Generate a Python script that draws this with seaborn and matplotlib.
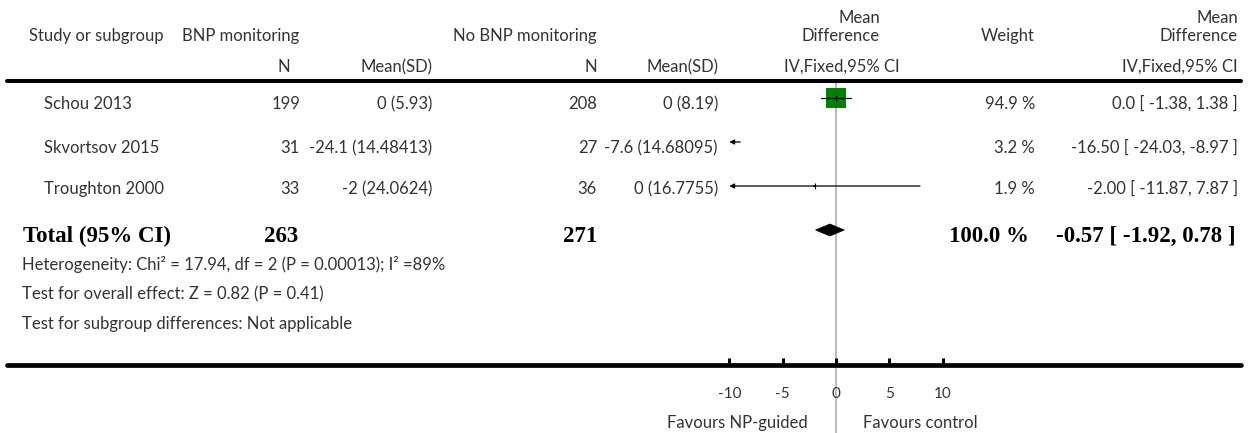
import matplotlib
matplotlib.use("Agg")
import matplotlib.pyplot as plt
import seaborn as sns
import pandas as pd
from matplotlib.lines import Line2D
from matplotlib.patches import Polygon

# ---------------- data ----------------
studies = ["Schou 2013", "Skvortsov 2015", "Troughton 2000"]
n_bnp = [199, 31, 33]
mean_bnp = ["0", "-24.1", "-2"]
sd_bnp = ["5.93", "14.48413", "24.0624"]
n_ctrl = [208, 27, 36]
mean_ctrl = ["0", "-7.6", "0"]
sd_ctrl = ["8.19", "14.68095", "16.7755"]
md = [0.0, -16.50, -2.00]
ci_lo = [-1.38, -24.03, -11.87]
ci_hi = [1.38, -8.97, 7.87]
weights = [94.9, 3.2, 1.9]
md_text = ["0.0 [ -1.38, 1.38 ]", "-16.50 [ -24.03, -8.97 ]", "-2.00 [ -11.87, 7.87 ]"]
total_n_bnp = 263
total_n_ctrl = 271
total_md = -0.57
total_lo = -1.92
total_hi = 0.78
total_weight = "100.0 %"
total_text = "-0.57 [ -1.92, 0.78 ]"
xticks = [-10, -5, 0, 5, 10]
xtick_labels = ["-10", "-5", "0", "5", "10"]
footer = ["Heterogeneity: Chi\u00b2 = 17.94, df = 2 (P = 0.00013); I\u00b2 =89%",
          "Test for overall effect: Z = 0.82 (P = 0.41)",
          "Test for subgroup differences: Not applicable"]

# ---------------- style ----------------
sns.set_theme(style="white")
plt.rcParams["font.family"] = ["Lato", "DejaVu Sans"]
plt.rcParams["axes.unicode_minus"] = False

W, H = 1252, 433
fig = plt.figure(figsize=(W / 100, H / 100), dpi=100)
FS = 12
FSB = 16.5
TC = "#333333"


def fx(x):
    return x / W


def fy(y):
    return 1 - y / H


def txt(x, y, s, ha="left", bold=False, **kw):
    if bold:
        fig.text(fx(x), fy(y), s, ha=ha, va="baseline", fontsize=FSB,
                 family=["Liberation Serif", "DejaVu Serif"], weight="bold",
                 color="black", **kw)
    else:
        fig.text(fx(x), fy(y), s, ha=ha, va="baseline", fontsize=FS,
                 color=TC, **kw)


# ---------------- header ----------------
txt(880, 23, "Mean", ha="right")
txt(1238, 23, "Mean", ha="right")
txt(29, 41, "Study or subgroup")
txt(182, 41, "BNP monitoring")
txt(597, 41, "No BNP monitoring", ha="right")
txt(880, 41, "Difference", ha="right")
txt(1035, 41, "Weight", ha="right")
txt(1238, 41, "Difference", ha="right")
txt(290, 72, "N", ha="right")
txt(432, 72, "Mean(SD)", ha="right")
txt(597, 72, "N", ha="right")
txt(718, 72, "Mean(SD)", ha="right")
txt(900, 72, "IV,Fixed,95% CI", ha="right")
txt(1238, 72, "IV,Fixed,95% CI", ha="right")

fig.add_artist(Line2D([fx(7), fx(1241)], [fy(81), fy(81)], lw=2.9, color="black"))
fig.add_artist(Line2D([fx(7), fx(1241)], [fy(365), fy(365)], lw=3.4, color="black"))

# ---------------- study rows ----------------
row_base = [109, 153, 194]
for i in range(len(studies)):
    b = row_base[i]
    txt(44, b, studies[i])
    txt(300, b, str(n_bnp[i]), ha="right")
    txt(432, b, f"{mean_bnp[i]} ({sd_bnp[i]})", ha="right")
    txt(597, b, str(n_ctrl[i]), ha="right")
    txt(718, b, f"{mean_ctrl[i]} ({sd_ctrl[i]})", ha="right")
    txt(1035, b, f"{weights[i]} %", ha="right")
    txt(1238, b, md_text[i], ha="right")

# total row
txt(23, 242, "Total (95% CI)", bold=True)
txt(298, 242, str(total_n_bnp), ha="right", bold=True)
txt(597, 242, str(total_n_ctrl), ha="right", bold=True)
txt(1029, 242, total_weight, ha="right", bold=True)
txt(1236, 242, total_text, ha="right", bold=True)

for j, s in enumerate(footer):
    txt(22, [270, 299, 329][j], s)

# ---------------- forest axes ----------------
X0, X1, Y0, Y1 = 729.3, 942.7, 81, 365
ax = fig.add_axes([fx(X0), fy(Y1), (X1 - X0) / W, (Y1 - Y0) / H])
ax.patch.set_alpha(0)
xmin, xmax = -10, 10
ROWSP = 44.0
ax.set_xlim(xmin, xmax)
ax.set_ylim((Y1 - 98) / ROWSP, -(98 - Y0) / ROWSP)

df = pd.DataFrame({"md": md, "row": list(range(len(studies))), "weight": weights})
sns.scatterplot(data=df, x="md", y="row", size="weight", sizes=(4.1, 207),
                marker="s", color="#008000", linewidth=0, legend=False,
                ax=ax, zorder=2)

for i in range(len(studies)):
    lo_c = max(ci_lo[i], xmin)
    hi_c = min(ci_hi[i], xmax)
    if ci_lo[i] < xmin:
        ax.annotate("", xy=(lo_c, i), xytext=(hi_c, i),
                    arrowprops=dict(arrowstyle="-|>", color="black", lw=0.9,
                                    mutation_scale=7, shrinkA=0, shrinkB=0),
                    zorder=3)
    else:
        ax.plot([lo_c, hi_c], [i, i], color="black", lw=0.9, zorder=3)
ax.plot(md, list(range(len(studies))), linestyle="none", marker="|",
        ms=5, mew=0.8, color="black", zorder=4)

# total diamond
tr = len(studies)
h = 6 / ROWSP
ax.add_patch(Polygon([(total_lo, tr), (total_md, tr - h), (total_hi, tr),
                      (total_md, tr + h)], closed=True, facecolor="black",
                     edgecolor="black", lw=0.5, zorder=3))

ax.axvline(0, color="#bdbdbd", lw=1.5, ymin=-(H - Y1) / (Y1 - Y0), ymax=1,
           clip_on=False, zorder=0)

for sp in ax.spines.values():
    sp.set_visible(False)
ax.set_yticks([])
ax.set_xticks(xticks)
ax.set_xticklabels(xtick_labels)
ax.set_xlabel("")
ax.set_ylabel("")
ax.tick_params(axis="x", bottom=True, direction="in", length=5, width=2.2,
               color="black", pad=16, labelsize=11, labelcolor=TC)

txt(808, 428, "Favours NP-guided", ha="right", )
txt(863, 428, "Favours control")

fig.savefig("out.png", dpi=100)
